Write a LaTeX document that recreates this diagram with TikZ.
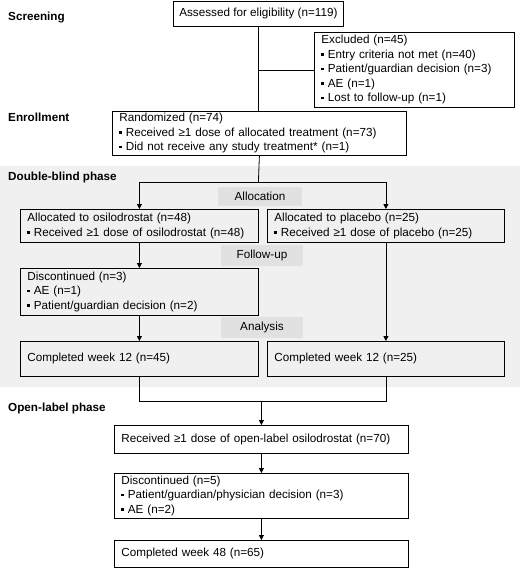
\documentclass[tikz,border=0pt]{standalone}
\usepackage{fontspec}
\setmainfont{Liberation Sans}
\usetikzlibrary{arrows.meta}

\definecolor{bandgray}{HTML}{F0F0F0}
\definecolor{lblgray}{HTML}{E1E1E1}

\newcommand{\sqb}{\raisebox{0.22em}{\rule{2.6pt}{2.6pt}}\ }

\begin{document}
\begin{tikzpicture}[x=1pt,y=-1pt,
    font=\fontsize{11.7}{14.5}\selectfont,
    box/.style={draw,line width=0.8pt,anchor=north west,inner xsep=7pt,inner ysep=0pt,align=left},
    phase/.style={anchor=west,inner sep=0pt,font=\fontsize{11.7}{14.5}\selectfont\bfseries},
    stage/.style={fill=lblgray,inner sep=0pt},
    line/.style={line width=0.8pt},
    arr/.style={line width=0.8pt,-{Triangle[length=5pt,width=5pt]}}]

    \useasboundingbox (0,0) rectangle (520,576);

    % double-blind band
    \fill[bandgray] (0,166) rectangle (520,387);

    % phase headings
    \node[phase] (screen) at (8,17) {Screening};
    \node[phase] (enrol) at (8,117) {Enrollment};
    \node[phase] (dblind) at (8,177) {Double-blind phase};
    \node[phase] (olabel) at (8,408) {Open-label phase};

    % screening and enrollment
    \node[box,align=center,inner xsep=3pt,minimum width=170pt,minimum height=25pt] (assess) at (173,1) {Assessed for eligibility (n=119)};
    \node[box,text width=186pt,minimum height=75pt] (excl) at (314,32) {Excluded (n=45)\\
        \sqb Entry criteria not met (n=40)\\
        \sqb Patient/guardian decision (n=3)\\
        \sqb AE (n=1)\\
        \sqb Lost to follow-up (n=1)};
    \node[box,text width=280pt,minimum height=44pt] (rand) at (112,111) {Randomized (n=74)\\
        \sqb Received ≥1 dose of allocated treatment (n=73)\\
        \sqb Did not receive any study treatment* (n=1)};

    % double-blind phase
    \node[stage,minimum width=84pt,minimum height=19pt] (allocl) at (260,196.5) {Allocation};
    \node[stage,minimum width=82pt,minimum height=21pt] (follow) at (262,255.5) {Follow-up};
    \node[stage,minimum width=82pt,minimum height=21pt] (analys) at (262,327.5) {Analysis};

    \node[box,text width=224pt,minimum height=33pt] (osilo) at (20,209) {Allocated to osilodrostat (n=48)\\
        \sqb Received ≥1 dose of osilodrostat (n=48)};
    \node[box,text width=223pt,minimum height=33pt] (placebo) at (267,209) {Allocated to placebo (n=25)\\
        \sqb Received ≥1 dose of placebo (n=25)};
    \node[box,text width=224pt,minimum height=47pt] (disc1) at (20,268) {Discontinued (n=3)\\
        \sqb AE (n=1)\\
        \sqb Patient/guardian decision (n=2)};
    \node[box,text width=224pt,minimum height=35pt] (comp12a) at (20,341) {Completed week 12 (n=45)};
    \node[box,text width=223pt,minimum height=35pt] (comp12b) at (267,341) {Completed week 12 (n=25)};

    % open-label phase
    \node[box,text width=280pt,minimum height=28pt] (recv) at (114,425) {Received ≥1 dose of open-label osilodrostat (n=70)};
    \node[box,text width=280pt,minimum height=45pt] (disc2) at (114,473) {Discontinued (n=5)\\
        \sqb Patient/guardian/physician decision (n=3)\\
        \sqb AE (n=2)};
    \node[box,text width=280pt,minimum height=27pt] (comp48) at (114,540) {Completed week 48 (n=65)};

    % screening to randomization
    \draw[line] (assess.south) -- (assess.south |- rand.north);
    \draw[line] (assess.south |- excl.west) -- (excl.west);

    % allocation split
    \coordinate (split) at (assess.south |- 0,182);
    \draw[line] (rand.south) -- (split);
    \draw[arr] (split) -| (osilo.north);
    \draw[arr] (split) -| (placebo.north);

    % double-blind arms
    \draw[arr] (osilo) -- (disc1);
    \draw[arr] (disc1) -- (comp12a);
    \draw[arr] (placebo) -- (comp12b);

    % merge into open-label
    \coordinate (merge) at (recv.north |- 0,401);
    \draw[line] (comp12a.south) |- (merge);
    \draw[line] (comp12b.south) |- (merge);
    \draw[arr] (merge) -- (recv.north);

    \foreach \a/\b in {recv/disc2,disc2/comp48}
        \draw[arr] (\a) -- (\b);
\end{tikzpicture}
\end{document}
